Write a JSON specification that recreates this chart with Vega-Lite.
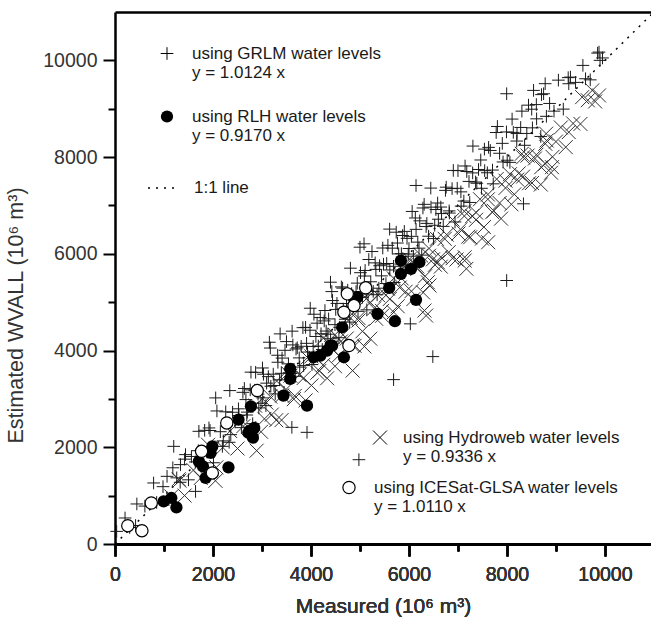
{
  "$schema": "https://vega.github.io/schema/vega-lite/v6.json",
  "width": 536,
  "height": 532,
  "autosize": "none",
  "padding": {"left": 115, "top": 12, "right": 0, "bottom": 74},
  "background": "white",
  "config": {
    "view": {"stroke": null},
    "font": "Liberation Sans",
    "legend": {
      "orient": "none",
      "padding": 0,
      "labelFont": "Liberation Sans",
      "labelFontSize": 17,
      "labelFontWeight": "normal",
      "labelColor": "#1a1a1a",
      "labelLimit": 500,
      "symbolOpacity": 1,
      "symbolStrokeColor": "black",
      "symbolStrokeWidth": 1
    }
  },
  "data": {
    "values": [
      {"series": "1:1 line", "measured": 0, "estimated": 0},
      {"series": "1:1 line", "measured": 11000, "estimated": 11000},
      {"series": "GRLM", "measured": 300, "estimated": 341},
      {"series": "GRLM", "measured": 420, "estimated": 382},
      {"series": "GRLM", "measured": 610, "estimated": 784},
      {"series": "GRLM", "measured": 850, "estimated": 859},
      {"series": "GRLM", "measured": 980, "estimated": 1186},
      {"series": "GRLM", "measured": 1100, "estimated": 918},
      {"series": "GRLM", "measured": 1180, "estimated": 1576},
      {"series": "GRLM", "measured": 1260, "estimated": 1368},
      {"series": "GRLM", "measured": 1330, "estimated": 1276},
      {"series": "GRLM", "measured": 1420, "estimated": 1754},
      {"series": "GRLM", "measured": 1500, "estimated": 1327},
      {"series": "GRLM", "measured": 1560, "estimated": 1810},
      {"series": "GRLM", "measured": 1640, "estimated": 1697},
      {"series": "GRLM", "measured": 1700, "estimated": 1930},
      {"series": "GRLM", "measured": 1760, "estimated": 1602},
      {"series": "GRLM", "measured": 1830, "estimated": 2351},
      {"series": "GRLM", "measured": 1880, "estimated": 1899},
      {"series": "GRLM", "measured": 1940, "estimated": 2347},
      {"series": "GRLM", "measured": 2010, "estimated": 1680},
      {"series": "GRLM", "measured": 2080, "estimated": 2751},
      {"series": "GRLM", "measured": 2150, "estimated": 2322},
      {"series": "GRLM", "measured": 2210, "estimated": 2132},
      {"series": "GRLM", "measured": 2260, "estimated": 2733},
      {"series": "GRLM", "measured": 2330, "estimated": 2103},
      {"series": "GRLM", "measured": 2400, "estimated": 2724},
      {"series": "GRLM", "measured": 2450, "estimated": 2525},
      {"series": "GRLM", "measured": 2520, "estimated": 2795},
      {"series": "GRLM", "measured": 2580, "estimated": 2406},
      {"series": "GRLM", "measured": 2640, "estimated": 3216},
      {"series": "GRLM", "measured": 2700, "estimated": 2727},
      {"series": "GRLM", "measured": 2760, "estimated": 3188},
      {"series": "GRLM", "measured": 2810, "estimated": 2488},
      {"series": "GRLM", "measured": 2870, "estimated": 3549},
      {"series": "GRLM", "measured": 2920, "estimated": 3099},
      {"series": "GRLM", "measured": 2980, "estimated": 2910},
      {"series": "GRLM", "measured": 3030, "estimated": 3510},
      {"series": "GRLM", "measured": 3080, "estimated": 2861},
      {"series": "GRLM", "measured": 3130, "estimated": 3461},
      {"series": "GRLM", "measured": 3180, "estimated": 3262},
      {"series": "GRLM", "measured": 3230, "estimated": 3512},
      {"series": "GRLM", "measured": 3270, "estimated": 3103},
      {"series": "GRLM", "measured": 3320, "estimated": 3903},
      {"series": "GRLM", "measured": 3360, "estimated": 3394},
      {"series": "GRLM", "measured": 3410, "estimated": 3844},
      {"series": "GRLM", "measured": 3450, "estimated": 3135},
      {"series": "GRLM", "measured": 3500, "estimated": 4185},
      {"series": "GRLM", "measured": 3540, "estimated": 3725},
      {"series": "GRLM", "measured": 3590, "estimated": 3526},
      {"series": "GRLM", "measured": 3630, "estimated": 4116},
      {"series": "GRLM", "measured": 3680, "estimated": 3467},
      {"series": "GRLM", "measured": 3720, "estimated": 4057},
      {"series": "GRLM", "measured": 3760, "estimated": 3848},
      {"series": "GRLM", "measured": 3800, "estimated": 4088},
      {"series": "GRLM", "measured": 3850, "estimated": 3689},
      {"series": "GRLM", "measured": 3890, "estimated": 4479},
      {"series": "GRLM", "measured": 3930, "estimated": 3969},
      {"series": "GRLM", "measured": 3980, "estimated": 4420},
      {"series": "GRLM", "measured": 4020, "estimated": 3710},
      {"series": "GRLM", "measured": 4060, "estimated": 4751},
      {"series": "GRLM", "measured": 4100, "estimated": 4291},
      {"series": "GRLM", "measured": 4150, "estimated": 4092},
      {"series": "GRLM", "measured": 4190, "estimated": 4682},
      {"series": "GRLM", "measured": 4230, "estimated": 4022},
      {"series": "GRLM", "measured": 4270, "estimated": 4613},
      {"series": "GRLM", "measured": 4310, "estimated": 4403},
      {"series": "GRLM", "measured": 4360, "estimated": 4654},
      {"series": "GRLM", "measured": 4400, "estimated": 4244},
      {"series": "GRLM", "measured": 4440, "estimated": 5034},
      {"series": "GRLM", "measured": 4490, "estimated": 4535},
      {"series": "GRLM", "measured": 4530, "estimated": 4975},
      {"series": "GRLM", "measured": 4570, "estimated": 4266},
      {"series": "GRLM", "measured": 4620, "estimated": 5316},
      {"series": "GRLM", "measured": 4660, "estimated": 4857},
      {"series": "GRLM", "measured": 4700, "estimated": 4647},
      {"series": "GRLM", "measured": 4750, "estimated": 5248},
      {"series": "GRLM", "measured": 4790, "estimated": 4588},
      {"series": "GRLM", "measured": 4830, "estimated": 5178},
      {"series": "GRLM", "measured": 4880, "estimated": 4979},
      {"series": "GRLM", "measured": 4920, "estimated": 5219},
      {"series": "GRLM", "measured": 4960, "estimated": 4810},
      {"series": "GRLM", "measured": 5010, "estimated": 5610},
      {"series": "GRLM", "measured": 5050, "estimated": 5101},
      {"series": "GRLM", "measured": 5090, "estimated": 5541},
      {"series": "GRLM", "measured": 5140, "estimated": 4841},
      {"series": "GRLM", "measured": 5180, "estimated": 5882},
      {"series": "GRLM", "measured": 5220, "estimated": 5422},
      {"series": "GRLM", "measured": 5270, "estimated": 5223},
      {"series": "GRLM", "measured": 5310, "estimated": 5813},
      {"series": "GRLM", "measured": 5350, "estimated": 5154},
      {"series": "GRLM", "measured": 5400, "estimated": 5754},
      {"series": "GRLM", "measured": 5440, "estimated": 5544},
      {"series": "GRLM", "measured": 5480, "estimated": 5785},
      {"series": "GRLM", "measured": 5530, "estimated": 5385},
      {"series": "GRLM", "measured": 5570, "estimated": 6176},
      {"series": "GRLM", "measured": 5610, "estimated": 5666},
      {"series": "GRLM", "measured": 5660, "estimated": 6117},
      {"series": "GRLM", "measured": 5700, "estimated": 5407},
      {"series": "GRLM", "measured": 5740, "estimated": 6447},
      {"series": "GRLM", "measured": 5790, "estimated": 5998},
      {"series": "GRLM", "measured": 5830, "estimated": 5788},
      {"series": "GRLM", "measured": 5870, "estimated": 6379},
      {"series": "GRLM", "measured": 5920, "estimated": 5729},
      {"series": "GRLM", "measured": 5960, "estimated": 6320},
      {"series": "GRLM", "measured": 6000, "estimated": 6110},
      {"series": "GRLM", "measured": 6050, "estimated": 6361},
      {"series": "GRLM", "measured": 6090, "estimated": 5951},
      {"series": "GRLM", "measured": 6130, "estimated": 6741},
      {"series": "GRLM", "measured": 6180, "estimated": 6242},
      {"series": "GRLM", "measured": 6220, "estimated": 6682},
      {"series": "GRLM", "measured": 6260, "estimated": 5973},
      {"series": "GRLM", "measured": 6310, "estimated": 7023},
      {"series": "GRLM", "measured": 6350, "estimated": 6564},
      {"series": "GRLM", "measured": 6400, "estimated": 6364},
      {"series": "GRLM", "measured": 6450, "estimated": 6965},
      {"series": "GRLM", "measured": 6500, "estimated": 6315},
      {"series": "GRLM", "measured": 6550, "estimated": 6916},
      {"series": "GRLM", "measured": 6600, "estimated": 6716},
      {"series": "GRLM", "measured": 6650, "estimated": 6967},
      {"series": "GRLM", "measured": 6700, "estimated": 6567},
      {"series": "GRLM", "measured": 6760, "estimated": 7378},
      {"series": "GRLM", "measured": 6820, "estimated": 6888},
      {"series": "GRLM", "measured": 6880, "estimated": 7349},
      {"series": "GRLM", "measured": 6940, "estimated": 6659},
      {"series": "GRLM", "measured": 7000, "estimated": 7720},
      {"series": "GRLM", "measured": 7060, "estimated": 7281},
      {"series": "GRLM", "measured": 7120, "estimated": 7091},
      {"series": "GRLM", "measured": 7180, "estimated": 7702},
      {"series": "GRLM", "measured": 7240, "estimated": 7062},
      {"series": "GRLM", "measured": 7300, "estimated": 7673},
      {"series": "GRLM", "measured": 7360, "estimated": 7484},
      {"series": "GRLM", "measured": 7420, "estimated": 7744},
      {"series": "GRLM", "measured": 7480, "estimated": 7355},
      {"series": "GRLM", "measured": 7540, "estimated": 8165},
      {"series": "GRLM", "measured": 7600, "estimated": 7676},
      {"series": "GRLM", "measured": 7660, "estimated": 8137},
      {"series": "GRLM", "measured": 7720, "estimated": 7447},
      {"series": "GRLM", "measured": 7780, "estimated": 8508},
      {"series": "GRLM", "measured": 7850, "estimated": 8079},
      {"series": "GRLM", "measured": 7920, "estimated": 7899},
      {"series": "GRLM", "measured": 7990, "estimated": 8520},
      {"series": "GRLM", "measured": 8060, "estimated": 7891},
      {"series": "GRLM", "measured": 8130, "estimated": 8511},
      {"series": "GRLM", "measured": 8200, "estimated": 8332},
      {"series": "GRLM", "measured": 8280, "estimated": 8613},
      {"series": "GRLM", "measured": 8360, "estimated": 8244},
      {"series": "GRLM", "measured": 8440, "estimated": 9074},
      {"series": "GRLM", "measured": 8520, "estimated": 8605},
      {"series": "GRLM", "measured": 8600, "estimated": 9086},
      {"series": "GRLM", "measured": 8690, "estimated": 8427},
      {"series": "GRLM", "measured": 8780, "estimated": 9518},
      {"series": "GRLM", "measured": 8870, "estimated": 9109},
      {"series": "GRLM", "measured": 8960, "estimated": 8950},
      {"series": "GRLM", "measured": 9050, "estimated": 9591},
      {"series": "GRLM", "measured": 9150, "estimated": 8992},
      {"series": "GRLM", "measured": 9250, "estimated": 9643},
      {"series": "GRLM", "measured": 9400, "estimated": 9544},
      {"series": "GRLM", "measured": 9550, "estimated": 9896},
      {"series": "GRLM", "measured": 9700, "estimated": 9597},
      {"series": "GRLM", "measured": 9850, "estimated": 10150},
      {"series": "GRLM", "measured": 9950, "estimated": 10050},
      {"series": "GRLM", "measured": 2530, "estimated": 2655},
      {"series": "GRLM", "measured": 2610, "estimated": 3136},
      {"series": "GRLM", "measured": 2690, "estimated": 2667},
      {"series": "GRLM", "measured": 2775, "estimated": 3553},
      {"series": "GRLM", "measured": 2850, "estimated": 3179},
      {"series": "GRLM", "measured": 2935, "estimated": 2814},
      {"series": "GRLM", "measured": 3010, "estimated": 3640},
      {"series": "GRLM", "measured": 3095, "estimated": 3326},
      {"series": "GRLM", "measured": 3170, "estimated": 4052},
      {"series": "GRLM", "measured": 3245, "estimated": 3277},
      {"series": "GRLM", "measured": 3325, "estimated": 3758},
      {"series": "GRLM", "measured": 3395, "estimated": 3529},
      {"series": "GRLM", "measured": 3470, "estimated": 4005},
      {"series": "GRLM", "measured": 3555, "estimated": 3541},
      {"series": "GRLM", "measured": 3615, "estimated": 4401},
      {"series": "GRLM", "measured": 3695, "estimated": 4032},
      {"series": "GRLM", "measured": 3770, "estimated": 3658},
      {"series": "GRLM", "measured": 3835, "estimated": 4473},
      {"series": "GRLM", "measured": 3910, "estimated": 4149},
      {"series": "GRLM", "measured": 3985, "estimated": 4875},
      {"series": "GRLM", "measured": 4045, "estimated": 4085},
      {"series": "GRLM", "measured": 4125, "estimated": 4566},
      {"series": "GRLM", "measured": 4205, "estimated": 4347},
      {"series": "GRLM", "measured": 4285, "estimated": 4828},
      {"series": "GRLM", "measured": 4345, "estimated": 4338},
      {"series": "GRLM", "measured": 4425, "estimated": 5219},
      {"series": "GRLM", "measured": 4505, "estimated": 4850},
      {"series": "GRLM", "measured": 4585, "estimated": 4481},
      {"series": "GRLM", "measured": 4645, "estimated": 5291},
      {"series": "GRLM", "measured": 4725, "estimated": 4972},
      {"series": "GRLM", "measured": 4805, "estimated": 5703},
      {"series": "GRLM", "measured": 4865, "estimated": 4914},
      {"series": "GRLM", "measured": 4945, "estimated": 5394},
      {"series": "GRLM", "measured": 5025, "estimated": 5175},
      {"series": "GRLM", "measured": 5105, "estimated": 5656},
      {"series": "GRLM", "measured": 5165, "estimated": 5167},
      {"series": "GRLM", "measured": 5245, "estimated": 6047},
      {"series": "GRLM", "measured": 5325, "estimated": 5678},
      {"series": "GRLM", "measured": 5385, "estimated": 5289},
      {"series": "GRLM", "measured": 5465, "estimated": 6120},
      {"series": "GRLM", "measured": 5545, "estimated": 5800},
      {"series": "GRLM", "measured": 5605, "estimated": 6511},
      {"series": "GRLM", "measured": 5685, "estimated": 5742},
      {"series": "GRLM", "measured": 5765, "estimated": 6223},
      {"series": "GRLM", "measured": 5845, "estimated": 6003},
      {"series": "GRLM", "measured": 5905, "estimated": 6464},
      {"series": "GRLM", "measured": 5985, "estimated": 5995},
      {"series": "GRLM", "measured": 6065, "estimated": 6876},
      {"series": "GRLM", "measured": 6145, "estimated": 6506},
      {"series": "GRLM", "measured": 6205, "estimated": 6117},
      {"series": "GRLM", "measured": 6285, "estimated": 6948},
      {"series": "GRLM", "measured": 6365, "estimated": 6629},
      {"series": "GRLM", "measured": 6445, "estimated": 7359},
      {"series": "GRLM", "measured": 6525, "estimated": 6590},
      {"series": "GRLM", "measured": 6585, "estimated": 7051},
      {"series": "GRLM", "measured": 6665, "estimated": 6832},
      {"series": "GRLM", "measured": 6745, "estimated": 7312},
      {"series": "GRLM", "measured": 6825, "estimated": 6843},
      {"series": "GRLM", "measured": 6905, "estimated": 7724},
      {"series": "GRLM", "measured": 6985, "estimated": 7355},
      {"series": "GRLM", "measured": 7065, "estimated": 6986},
      {"series": "GRLM", "measured": 7145, "estimated": 7816},
      {"series": "GRLM", "measured": 7225, "estimated": 7497},
      {"series": "GRLM", "measured": 7305, "estimated": 8228},
      {"series": "GRLM", "measured": 7385, "estimated": 7459},
      {"series": "GRLM", "measured": 7465, "estimated": 7940},
      {"series": "GRLM", "measured": 7545, "estimated": 7720},
      {"series": "GRLM", "measured": 7625, "estimated": 8201},
      {"series": "GRLM", "measured": 7705, "estimated": 7732},
      {"series": "GRLM", "measured": 7805, "estimated": 8633},
      {"series": "GRLM", "measured": 7905, "estimated": 8284},
      {"series": "GRLM", "measured": 8005, "estimated": 7935},
      {"series": "GRLM", "measured": 8105, "estimated": 8786},
      {"series": "GRLM", "measured": 8205, "estimated": 8487},
      {"series": "GRLM", "measured": 8305, "estimated": 8950},
      {"series": "GRLM", "measured": 8405, "estimated": 8489},
      {"series": "GRLM", "measured": 8505, "estimated": 8990},
      {"series": "GRLM", "measured": 8605, "estimated": 8791},
      {"series": "GRLM", "measured": 8705, "estimated": 9292},
      {"series": "GRLM", "measured": 8805, "estimated": 8843},
      {"series": "GRLM", "measured": 4978, "estimated": 1743},
      {"series": "GRLM", "measured": 7994, "estimated": 5448},
      {"series": "GRLM", "measured": 6487, "estimated": 3875},
      {"series": "GRLM", "measured": 5686, "estimated": 3399},
      {"series": "GRLM", "measured": 6028, "estimated": 4552},
      {"series": "GRLM", "measured": 6144, "estimated": 7413},
      {"series": "GRLM", "measured": 8337, "estimated": 7034},
      {"series": "GRLM", "measured": 7994, "estimated": 9310},
      {"series": "GRLM", "measured": 8543, "estimated": 9379},
      {"series": "GRLM", "measured": 8748, "estimated": 9310},
      {"series": "GRLM", "measured": 9879, "estimated": 10171},
      {"series": "GRLM", "measured": 9900, "estimated": 10000},
      {"series": "GRLM", "measured": 9296, "estimated": 9654},
      {"series": "GRLM", "measured": 9262, "estimated": 9517},
      {"series": "GRLM", "measured": 9604, "estimated": 9620},
      {"series": "GRLM", "measured": 5000, "estimated": 6137},
      {"series": "GRLM", "measured": 5083, "estimated": 6207},
      {"series": "GRLM", "measured": 4398, "estimated": 5413},
      {"series": "GRLM", "measured": 3151, "estimated": 4172},
      {"series": "GRLM", "measured": 3370, "estimated": 4345},
      {"series": "GRLM", "measured": 3610, "estimated": 2412},
      {"series": "GRLM", "measured": 3919, "estimated": 2309},
      {"series": "GRLM", "measured": 2343, "estimated": 3172},
      {"series": "GRLM", "measured": 1199, "estimated": 2019},
      {"series": "GRLM", "measured": 1439, "estimated": 1848},
      {"series": "GRLM", "measured": 788, "estimated": 1262},
      {"series": "GRLM", "measured": 446, "estimated": 828},
      {"series": "GRLM", "measured": 205, "estimated": 538},
      {"series": "GRLM", "measured": 34, "estimated": 261},
      {"series": "GRLM", "measured": 2055, "estimated": 3021},
      {"series": "GRLM", "measured": 1644, "estimated": 1088},
      {"series": "GRLM", "measured": 1062, "estimated": 1399},
      {"series": "GRLM", "measured": 1336, "estimated": 1641},
      {"series": "GRLM", "measured": 1712, "estimated": 2330},
      {"series": "GRLM", "measured": 1918, "estimated": 2400},
      {"series": "GRLM", "measured": 2192, "estimated": 2019},
      {"series": "GRLM", "measured": 2363, "estimated": 2261},
      {"series": "GRLM", "measured": 2672, "estimated": 2986},
      {"series": "GRLM", "measured": 3014, "estimated": 3021},
      {"series": "Hydroweb", "measured": 1150, "estimated": 984},
      {"series": "Hydroweb", "measured": 1300, "estimated": 1339},
      {"series": "Hydroweb", "measured": 1420, "estimated": 1001},
      {"series": "Hydroweb", "measured": 1600, "estimated": 1528},
      {"series": "Hydroweb", "measured": 1750, "estimated": 1365},
      {"series": "Hydroweb", "measured": 1900, "estimated": 2052},
      {"series": "Hydroweb", "measured": 2050, "estimated": 1307},
      {"series": "Hydroweb", "measured": 2200, "estimated": 1996},
      {"series": "Hydroweb", "measured": 2350, "estimated": 2336},
      {"series": "Hydroweb", "measured": 2500, "estimated": 1975},
      {"series": "Hydroweb", "measured": 2620, "estimated": 2437},
      {"series": "Hydroweb", "measured": 2740, "estimated": 2398},
      {"series": "Hydroweb", "measured": 2860, "estimated": 2860},
      {"series": "Hydroweb", "measured": 2980, "estimated": 2321},
      {"series": "Hydroweb", "measured": 3090, "estimated": 2924},
      {"series": "Hydroweb", "measured": 3200, "estimated": 2676},
      {"series": "Hydroweb", "measured": 3300, "estimated": 3369},
      {"series": "Hydroweb", "measured": 3400, "estimated": 2562},
      {"series": "Hydroweb", "measured": 3490, "estimated": 3196},
      {"series": "Hydroweb", "measured": 3580, "estimated": 3479},
      {"series": "Hydroweb", "measured": 3670, "estimated": 3063},
      {"series": "Hydroweb", "measured": 3760, "estimated": 3497},
      {"series": "Hydroweb", "measured": 3850, "estimated": 3431},
      {"series": "Hydroweb", "measured": 3930, "estimated": 3855},
      {"series": "Hydroweb", "measured": 4010, "estimated": 3279},
      {"series": "Hydroweb", "measured": 4090, "estimated": 3854},
      {"series": "Hydroweb", "measured": 4170, "estimated": 3578},
      {"series": "Hydroweb", "measured": 4250, "estimated": 4253},
      {"series": "Hydroweb", "measured": 4330, "estimated": 3427},
      {"series": "Hydroweb", "measured": 4410, "estimated": 4051},
      {"series": "Hydroweb", "measured": 4490, "estimated": 4326},
      {"series": "Hydroweb", "measured": 4570, "estimated": 3900},
      {"series": "Hydroweb", "measured": 4650, "estimated": 4325},
      {"series": "Hydroweb", "measured": 4730, "estimated": 4249},
      {"series": "Hydroweb", "measured": 4810, "estimated": 4673},
      {"series": "Hydroweb", "measured": 4890, "estimated": 4098},
      {"series": "Hydroweb", "measured": 4970, "estimated": 4672},
      {"series": "Hydroweb", "measured": 5050, "estimated": 4397},
      {"series": "Hydroweb", "measured": 5130, "estimated": 5071},
      {"series": "Hydroweb", "measured": 5210, "estimated": 4245},
      {"series": "Hydroweb", "measured": 5290, "estimated": 4870},
      {"series": "Hydroweb", "measured": 5370, "estimated": 5144},
      {"series": "Hydroweb", "measured": 5450, "estimated": 4719},
      {"series": "Hydroweb", "measured": 5530, "estimated": 5143},
      {"series": "Hydroweb", "measured": 5610, "estimated": 5067},
      {"series": "Hydroweb", "measured": 5690, "estimated": 5492},
      {"series": "Hydroweb", "measured": 5770, "estimated": 4916},
      {"series": "Hydroweb", "measured": 5850, "estimated": 5491},
      {"series": "Hydroweb", "measured": 5930, "estimated": 5215},
      {"series": "Hydroweb", "measured": 6010, "estimated": 5889},
      {"series": "Hydroweb", "measured": 6090, "estimated": 5064},
      {"series": "Hydroweb", "measured": 6170, "estimated": 5688},
      {"series": "Hydroweb", "measured": 6250, "estimated": 5963},
      {"series": "Hydroweb", "measured": 6330, "estimated": 5537},
      {"series": "Hydroweb", "measured": 6410, "estimated": 5961},
      {"series": "Hydroweb", "measured": 6490, "estimated": 5886},
      {"series": "Hydroweb", "measured": 6570, "estimated": 6310},
      {"series": "Hydroweb", "measured": 6650, "estimated": 5735},
      {"series": "Hydroweb", "measured": 6730, "estimated": 6309},
      {"series": "Hydroweb", "measured": 6810, "estimated": 6033},
      {"series": "Hydroweb", "measured": 6890, "estimated": 6708},
      {"series": "Hydroweb", "measured": 6970, "estimated": 5882},
      {"series": "Hydroweb", "measured": 7050, "estimated": 6507},
      {"series": "Hydroweb", "measured": 7130, "estimated": 6781},
      {"series": "Hydroweb", "measured": 7210, "estimated": 6355},
      {"series": "Hydroweb", "measured": 7290, "estimated": 6780},
      {"series": "Hydroweb", "measured": 7370, "estimated": 6704},
      {"series": "Hydroweb", "measured": 7450, "estimated": 7129},
      {"series": "Hydroweb", "measured": 7530, "estimated": 6553},
      {"series": "Hydroweb", "measured": 7610, "estimated": 7127},
      {"series": "Hydroweb", "measured": 7700, "estimated": 6861},
      {"series": "Hydroweb", "measured": 7790, "estimated": 7545},
      {"series": "Hydroweb", "measured": 7880, "estimated": 6728},
      {"series": "Hydroweb", "measured": 7970, "estimated": 7362},
      {"series": "Hydroweb", "measured": 8060, "estimated": 7646},
      {"series": "Hydroweb", "measured": 8150, "estimated": 7230},
      {"series": "Hydroweb", "measured": 8240, "estimated": 7663},
      {"series": "Hydroweb", "measured": 8330, "estimated": 7597},
      {"series": "Hydroweb", "measured": 8420, "estimated": 8031},
      {"series": "Hydroweb", "measured": 8510, "estimated": 7464},
      {"series": "Hydroweb", "measured": 8600, "estimated": 8048},
      {"series": "Hydroweb", "measured": 8700, "estimated": 7791},
      {"series": "Hydroweb", "measured": 8800, "estimated": 8484},
      {"series": "Hydroweb", "measured": 8900, "estimated": 7677},
      {"series": "Hydroweb", "measured": 9000, "estimated": 8320},
      {"series": "Hydroweb", "measured": 9100, "estimated": 8613},
      {"series": "Hydroweb", "measured": 9200, "estimated": 8206},
      {"series": "Hydroweb", "measured": 9350, "estimated": 8696},
      {"series": "Hydroweb", "measured": 9500, "estimated": 8685},
      {"series": "Hydroweb", "measured": 9650, "estimated": 9175},
      {"series": "Hydroweb", "measured": 9800, "estimated": 9150},
      {"series": "Hydroweb", "measured": 3050, "estimated": 2587},
      {"series": "Hydroweb", "measured": 3170, "estimated": 3048},
      {"series": "Hydroweb", "measured": 3290, "estimated": 2560},
      {"series": "Hydroweb", "measured": 3410, "estimated": 3071},
      {"series": "Hydroweb", "measured": 3530, "estimated": 3533},
      {"series": "Hydroweb", "measured": 3650, "estimated": 2995},
      {"series": "Hydroweb", "measured": 3770, "estimated": 3506},
      {"series": "Hydroweb", "measured": 3890, "estimated": 2968},
      {"series": "Hydroweb", "measured": 4010, "estimated": 3879},
      {"series": "Hydroweb", "measured": 4130, "estimated": 3541},
      {"series": "Hydroweb", "measured": 4250, "estimated": 3703},
      {"series": "Hydroweb", "measured": 4370, "estimated": 4164},
      {"series": "Hydroweb", "measured": 4490, "estimated": 3676},
      {"series": "Hydroweb", "measured": 4610, "estimated": 4187},
      {"series": "Hydroweb", "measured": 4730, "estimated": 4649},
      {"series": "Hydroweb", "measured": 4850, "estimated": 4111},
      {"series": "Hydroweb", "measured": 4970, "estimated": 4622},
      {"series": "Hydroweb", "measured": 5090, "estimated": 4084},
      {"series": "Hydroweb", "measured": 5210, "estimated": 4995},
      {"series": "Hydroweb", "measured": 5330, "estimated": 4657},
      {"series": "Hydroweb", "measured": 5450, "estimated": 4819},
      {"series": "Hydroweb", "measured": 5570, "estimated": 5280},
      {"series": "Hydroweb", "measured": 5690, "estimated": 4792},
      {"series": "Hydroweb", "measured": 5810, "estimated": 5303},
      {"series": "Hydroweb", "measured": 5930, "estimated": 5765},
      {"series": "Hydroweb", "measured": 6050, "estimated": 5227},
      {"series": "Hydroweb", "measured": 6170, "estimated": 5738},
      {"series": "Hydroweb", "measured": 6290, "estimated": 5200},
      {"series": "Hydroweb", "measured": 6410, "estimated": 6111},
      {"series": "Hydroweb", "measured": 6530, "estimated": 5773},
      {"series": "Hydroweb", "measured": 6650, "estimated": 5935},
      {"series": "Hydroweb", "measured": 6770, "estimated": 6396},
      {"series": "Hydroweb", "measured": 6890, "estimated": 5908},
      {"series": "Hydroweb", "measured": 7010, "estimated": 6419},
      {"series": "Hydroweb", "measured": 7130, "estimated": 6881},
      {"series": "Hydroweb", "measured": 7250, "estimated": 6343},
      {"series": "Hydroweb", "measured": 7370, "estimated": 6854},
      {"series": "Hydroweb", "measured": 7490, "estimated": 6316},
      {"series": "Hydroweb", "measured": 7610, "estimated": 7227},
      {"series": "Hydroweb", "measured": 7730, "estimated": 6889},
      {"series": "Hydroweb", "measured": 7850, "estimated": 7051},
      {"series": "Hydroweb", "measured": 7970, "estimated": 7512},
      {"series": "Hydroweb", "measured": 8090, "estimated": 7024},
      {"series": "Hydroweb", "measured": 8210, "estimated": 7535},
      {"series": "Hydroweb", "measured": 8330, "estimated": 7997},
      {"series": "Hydroweb", "measured": 8450, "estimated": 7459},
      {"series": "Hydroweb", "measured": 8570, "estimated": 7970},
      {"series": "Hydroweb", "measured": 8690, "estimated": 7432},
      {"series": "Hydroweb", "measured": 8810, "estimated": 8343},
      {"series": "Hydroweb", "measured": 8930, "estimated": 8005},
      {"series": "Hydroweb", "measured": 7137, "estimated": 5861},
      {"series": "Hydroweb", "measured": 7172, "estimated": 5690},
      {"series": "Hydroweb", "measured": 6590, "estimated": 5826},
      {"series": "Hydroweb", "measured": 6419, "estimated": 5344},
      {"series": "Hydroweb", "measured": 6350, "estimated": 4723},
      {"series": "Hydroweb", "measured": 7617, "estimated": 6240},
      {"series": "Hydroweb", "measured": 7137, "estimated": 5930},
      {"series": "Hydroweb", "measured": 8919, "estimated": 7792},
      {"series": "Hydroweb", "measured": 8782, "estimated": 7862},
      {"series": "Hydroweb", "measured": 9879, "estimated": 9275},
      {"series": "Hydroweb", "measured": 9741, "estimated": 9379},
      {"series": "Hydroweb", "measured": 9262, "estimated": 8516},
      {"series": "Hydroweb", "measured": 8303, "estimated": 8069},
      {"series": "Hydroweb", "measured": 8782, "estimated": 8276},
      {"series": "Hydroweb", "measured": 9535, "estimated": 9240},
      {"series": "Hydroweb", "measured": 6384, "estimated": 5413},
      {"series": "Hydroweb", "measured": 6316, "estimated": 4827},
      {"series": "Hydroweb", "measured": 2891, "estimated": 1930},
      {"series": "Hydroweb", "measured": 1315, "estimated": 1310},
      {"series": "Hydroweb", "measured": 2069, "estimated": 1585},
      {"series": "Hydroweb", "measured": 4850, "estimated": 3585},
      {"series": "RLH", "measured": 993, "estimated": 881},
      {"series": "RLH", "measured": 1150, "estimated": 952},
      {"series": "RLH", "measured": 1254, "estimated": 757},
      {"series": "RLH", "measured": 1712, "estimated": 1709},
      {"series": "RLH", "measured": 1795, "estimated": 1606},
      {"series": "RLH", "measured": 1850, "estimated": 1366},
      {"series": "RLH", "measured": 1952, "estimated": 1883},
      {"series": "RLH", "measured": 1987, "estimated": 2019},
      {"series": "RLH", "measured": 2316, "estimated": 1585},
      {"series": "RLH", "measured": 2521, "estimated": 2572},
      {"series": "RLH", "measured": 2774, "estimated": 2847},
      {"series": "RLH", "measured": 2720, "estimated": 2300},
      {"series": "RLH", "measured": 2815, "estimated": 2199},
      {"series": "RLH", "measured": 2754, "estimated": 2344},
      {"series": "RLH", "measured": 2842, "estimated": 2400},
      {"series": "RLH", "measured": 3438, "estimated": 3068},
      {"series": "RLH", "measured": 3919, "estimated": 2861},
      {"series": "RLH", "measured": 3576, "estimated": 3620},
      {"series": "RLH", "measured": 3576, "estimated": 3414},
      {"series": "RLH", "measured": 4055, "estimated": 3861},
      {"series": "RLH", "measured": 4192, "estimated": 3896},
      {"series": "RLH", "measured": 4329, "estimated": 3999},
      {"series": "RLH", "measured": 4398, "estimated": 4103},
      {"series": "RLH", "measured": 4638, "estimated": 4481},
      {"series": "RLH", "measured": 4672, "estimated": 3861},
      {"series": "RLH", "measured": 4946, "estimated": 5102},
      {"series": "RLH", "measured": 5836, "estimated": 5861},
      {"series": "RLH", "measured": 6213, "estimated": 5826},
      {"series": "RLH", "measured": 6042, "estimated": 5690},
      {"series": "RLH", "measured": 5836, "estimated": 5586},
      {"series": "RLH", "measured": 5596, "estimated": 5297},
      {"series": "RLH", "measured": 6144, "estimated": 5048},
      {"series": "RLH", "measured": 5357, "estimated": 4759},
      {"series": "RLH", "measured": 5713, "estimated": 4606},
      {"series": "RLH", "measured": 4878, "estimated": 5069},
      {"series": "RLH", "measured": 4432, "estimated": 4103},
      {"series": "ICESat", "measured": 261, "estimated": 379},
      {"series": "ICESat", "measured": 549, "estimated": 275},
      {"series": "ICESat", "measured": 740, "estimated": 848},
      {"series": "ICESat", "measured": 1767, "estimated": 1916},
      {"series": "ICESat", "measured": 1987, "estimated": 1469},
      {"series": "ICESat", "measured": 2281, "estimated": 2503},
      {"series": "ICESat", "measured": 2904, "estimated": 3172},
      {"series": "ICESat", "measured": 4774, "estimated": 4103},
      {"series": "ICESat", "measured": 4672, "estimated": 4792},
      {"series": "ICESat", "measured": 4878, "estimated": 4930},
      {"series": "ICESat", "measured": 4741, "estimated": 5172},
      {"series": "ICESat", "measured": 5117, "estimated": 5297}
    ]
  },
  "encoding": {
    "x": {
      "field": "measured",
      "type": "quantitative",
      "scale": {"domain": [0, 10940], "nice": false, "zero": false},
      "axis": {
        "orient": "bottom",
        "title": "Measured (10⁶ m³)",
        "values": [0, 1000, 2000, 3000, 4000, 5000, 6000, 7000, 8000, 9000, 10000],
        "format": "d",
        "labelExpr": "datum.value % 2000 === 0 ? datum.label : ''",
        "tickSize": {"condition": {"test": "datum.value % 2000 === 0", "value": 12}, "value": 7},
        "tickWidth": 2,
        "tickColor": "black",
        "domainColor": "black",
        "domainWidth": 2.5,
        "grid": false,
        "labelFont": "Liberation Sans",
        "labelFontSize": 19.5,
        "labelFontWeight": "normal",
        "labelColor": "#333333",
        "labelPadding": 9,
        "labelFlush": false,
        "labelOverlap": false,
        "titleFont": "Liberation Sans",
        "titleFontSize": 21,
        "titleFontWeight": "normal",
        "titleColor": "#333333",
        "titleBaseline": "top",
        "titleY": 51
      }
    },
    "y": {
      "field": "estimated",
      "type": "quantitative",
      "scale": {"domain": [0, 11000], "nice": false, "zero": false},
      "axis": {
        "title": "Estimated WVALL (10⁶ m³)",
        "values": [0, 1000, 2000, 3000, 4000, 5000, 6000, 7000, 8000, 9000, 10000],
        "format": "d",
        "labelExpr": "datum.value % 2000 === 0 ? datum.label : ''",
        "tickSize": {"condition": {"test": "datum.value % 2000 === 0", "value": 12}, "value": 7},
        "tickWidth": 2,
        "tickColor": "black",
        "domainColor": "black",
        "domainWidth": 2.5,
        "grid": false,
        "labelFont": "Liberation Sans",
        "labelFontSize": 19.5,
        "labelFontWeight": "normal",
        "labelColor": "#333333",
        "labelPadding": 6,
        "labelFlush": false,
        "labelOverlap": false,
        "titleFont": "Liberation Sans",
        "titleFontSize": 21.5,
        "titleFontWeight": "normal",
        "titleColor": "#333333",
        "titleAngle": -90,
        "titleAlign": "center",
        "titleBaseline": "bottom",
        "titleX": -88,
        "titleY": 303
      }
    }
  },
  "layer": [
    {
      "transform": [{"filter": "datum.series === '1:1 line'"}],
      "mark": {"type": "line", "clip": true, "color": "black", "strokeWidth": 1.5},
      "encoding": {
        "x": {
          "field": "measured",
          "type": "quantitative",
          "scale": {"domain": [0, 10940], "nice": false, "zero": false},
          "axis": {"orient": "top", "ticks": false, "labels": false, "title": null, "grid": false, "domainColor": "black", "domainWidth": 2.5}
        },
        "strokeDash": {
          "field": "series",
          "type": "nominal",
          "scale": {"domain": ["1:1 line"], "range": [[2, 6]]},
          "legend": {
            "title": null,
            "legendX": 32,
            "legendY": 159,
            "labelOffset": 13,
            "symbolSize": 1024,
            "symbolStrokeWidth": 1.5,
            "symbolDash": [2, 6]
          }
        }
      }
    },
    {
      "transform": [{"filter": "datum.series === 'Hydroweb'"}],
      "mark": {"type": "point", "filled": false, "color": "#333333", "strokeWidth": 1, "size": 196, "opacity": 1},
      "encoding": {
        "shape": {
          "field": "series",
          "type": "nominal",
          "scale": {"domain": ["Hydroweb"], "range": ["M-1,-1L1,1M-1,1L1,-1"]},
          "legend": {
            "title": null,
            "legendX": 256.5,
            "legendY": 417,
            "labelOffset": 14.5,
            "symbolSize": 196,
            "symbolFillColor": "transparent",
            "labelExpr": "['using Hydroweb water levels', 'y = 0.9336 x']",
            "encode": {"labels": {"update": {"lineHeight": {"value": 22}}}}
          }
        }
      }
    },
    {
      "transform": [{"filter": "datum.series === 'GRLM'"}],
      "mark": {"type": "point", "filled": false, "color": "#1a1a1a", "strokeWidth": 1, "size": 160, "opacity": 1},
      "encoding": {
        "shape": {
          "field": "series",
          "type": "nominal",
          "scale": {"domain": ["GRLM"], "range": ["M-1,0H1M0,-1V1"]},
          "legend": {
            "title": null,
            "legendX": 43.5,
            "legendY": 33,
            "labelOffset": 16.5,
            "symbolSize": 160,
            "symbolFillColor": "transparent",
            "labelExpr": "['using GRLM water levels', 'y = 1.0124 x']",
            "encode": {"labels": {"update": {"lineHeight": {"value": 22}}}}
          }
        }
      }
    },
    {
      "transform": [{"filter": "datum.series === 'RLH'"}],
      "mark": {"type": "point", "filled": true, "color": "black", "size": 150, "opacity": 1},
      "encoding": {
        "shape": {
          "field": "series",
          "type": "nominal",
          "scale": {"domain": ["RLH"], "range": ["circle"]},
          "legend": {
            "title": null,
            "legendX": 43.5,
            "legendY": 96,
            "labelOffset": 16.5,
            "symbolSize": 150,
            "symbolFillColor": "black",
            "symbolStrokeWidth": 0,
            "labelExpr": "['using RLH water levels', 'y = 0.9170 x']",
            "encode": {"labels": {"update": {"lineHeight": {"value": 22}}}}
          }
        }
      }
    },
    {
      "transform": [{"filter": "datum.series === 'ICESat'"}],
      "mark": {"type": "point", "shape": "circle", "filled": false, "fill": "white", "strokeWidth": 1.2, "size": 150, "opacity": 1},
      "encoding": {
        "color": {
          "field": "series",
          "type": "nominal",
          "scale": {"domain": ["ICESat"], "range": ["black"]},
          "legend": {
            "title": null,
            "legendX": 225.5,
            "legendY": 467,
            "labelOffset": 16.5,
            "symbolType": "circle",
            "symbolSize": 150,
            "symbolFillColor": "white",
            "symbolStrokeWidth": 1.2,
            "labelExpr": "['using ICESat-GLSA water levels', 'y = 1.0110 x']",
            "encode": {"labels": {"update": {"lineHeight": {"value": 22}}}}
          }
        }
      }
    }
  ],
  "resolve": {
    "scale": {"shape": "independent", "strokeDash": "independent", "color": "independent"},
    "legend": {"shape": "independent", "strokeDash": "independent", "color": "independent"}
  }
}
